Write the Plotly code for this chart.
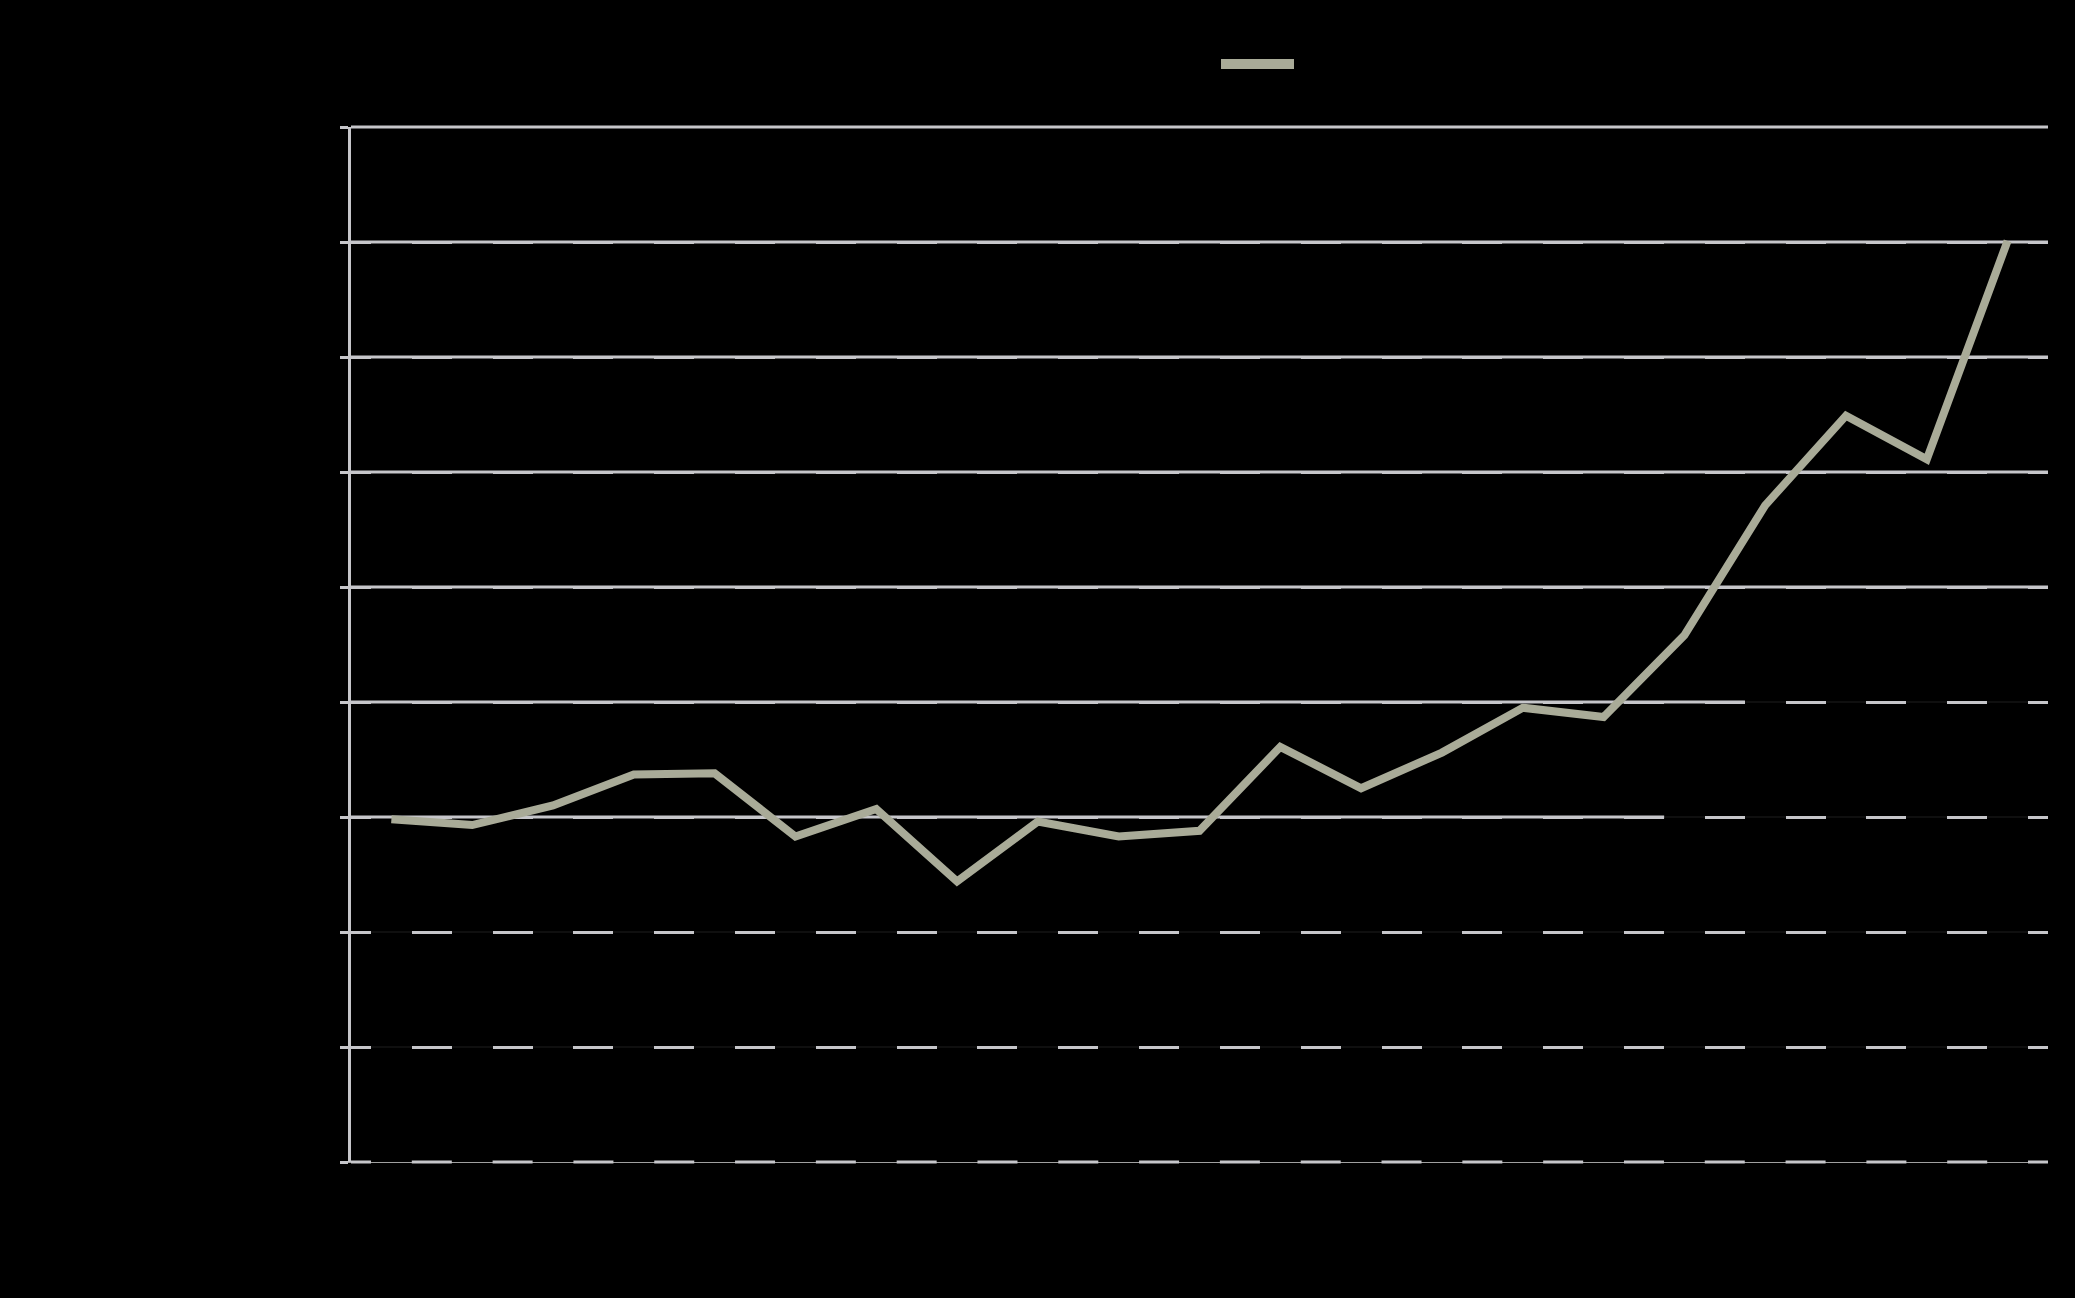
import plotly.graph_objects as go

# ---- data (text in the original is black on black) ----
categories = ["2000", "2001", "2002", "2003", "2004", "2005", "2006", "2007",
              "2008", "2009", "2010", "2011", "2012", "2013", "2014", "2015",
              "2016", "2017", "2018", "2019", "2020"]
values = [29.8, 29.3, 31.0, 33.7, 33.8, 28.3, 30.7, 24.4, 29.6, 28.3, 28.8,
          36.1, 32.5, 35.6, 39.5, 38.7, 45.8, 57.1, 64.9, 61.1, 80.1]
series_name = "Series 1"
y_ticks = [0, 10, 20, 30, 40, 50, 60, 70, 80, 90]
# gridlines that are drawn solid, and the category position where the solid part ends
solid_grid_values = [90, 80, 70, 60, 50, 40, 30]
solid_grid_ends = [20.5, 20.5, 20.5, 20.5, 20.5, 16.75, 15.75]

# ---- style ----
W, H = 2075, 1298
ML, MR, MT, MB = 351, 27, 127, 136
LINE_COLOR = "#a9ab98"
GRID_COLOR = "#c6c6ca"
BG = "#000000"

plot_w = W - ML - MR
cat_w = plot_w / len(categories)
grid_dash = f"20px,{cat_w - 40:.2f}px,20px,0px"

fig = go.Figure()
fig.add_trace(go.Scatter(
    x=categories, y=values, mode="lines", name=series_name,
    line=dict(color=LINE_COLOR, width=8), showlegend=False,
))

x_lo, x_hi = -0.5, len(categories) - 0.5
y_lo, y_hi = y_ticks[0], y_ticks[-1]


def px_x(v):
    return (v - x_lo) / (x_hi - x_lo)


def px_y(v):
    return (v - y_lo) / (y_hi - y_lo)


shapes = []
# thin dark line under the dashed gridlines
for v in y_ticks[1:5]:
    shapes.append(dict(type="line", xref="paper", yref="paper", x0=0, x1=1,
                       y0=px_y(v), y1=px_y(v), layer="below",
                       line=dict(color="#1e1e1e", width=1)))
# solid parts of the gridlines
for v, end in zip(solid_grid_values, solid_grid_ends):
    shapes.append(dict(type="line", xref="paper", yref="paper", x0=0, x1=px_x(end),
                       y0=px_y(v), y1=px_y(v), layer="below",
                       line=dict(color=GRID_COLOR, width=3)))
# dashed bottom gridline (on top of the thin axis line)
shapes.append(dict(type="line", xref="paper", yref="paper", x0=0, x1=1,
                   y0=px_y(y_lo), y1=px_y(y_lo), layer="above",
                   line=dict(color=GRID_COLOR, width=3, dash=grid_dash)))
# legend key
lx0 = (1221 - ML) / plot_w
lx1 = (1294 - ML) / plot_w
ly = (H - MB - 64) / (H - MT - MB)
shapes.append(dict(type="line", xref="paper", yref="paper", x0=lx0, x1=lx1, y0=ly, y1=ly,
                   line=dict(color=LINE_COLOR, width=10)))

fig.update_layout(
    width=W, height=H,
    margin=dict(l=ML, r=MR, t=MT, b=MB),
    paper_bgcolor=BG, plot_bgcolor=BG,
    font=dict(family="Liberation Sans, Arial, sans-serif", size=22, color="#000000"),
    shapes=shapes,
    annotations=[dict(xref="paper", yref="paper", x=lx1 + 0.006, y=ly, text=series_name,
                      showarrow=False, xanchor="left", yanchor="middle",
                      font=dict(color="#000000", size=22))],
    xaxis=dict(
        type="category", range=[x_lo, x_hi],
        showgrid=False, zeroline=False,
        showline=True, linecolor="#a0a0a0", linewidth=1,
        ticks="", tickfont=dict(color="#000000"),
    ),
    yaxis=dict(
        range=[y_lo, y_hi], tickvals=y_ticks,
        showgrid=True, gridcolor=GRID_COLOR, gridwidth=3, griddash=grid_dash,
        zeroline=False,
        showline=True, linecolor=GRID_COLOR, linewidth=3,
        ticks="outside", ticklen=8, tickwidth=3, tickcolor=GRID_COLOR,
        tickfont=dict(color="#000000"),
    ),
)

fig.write_html(
    "out.html",
    config={"displayModeBar": False},
    post_script="document.body.style.margin='0';document.body.style.background='#000';"
                "document.documentElement.style.background='#000';"
                "document.body.style.overflow='hidden';",
)
